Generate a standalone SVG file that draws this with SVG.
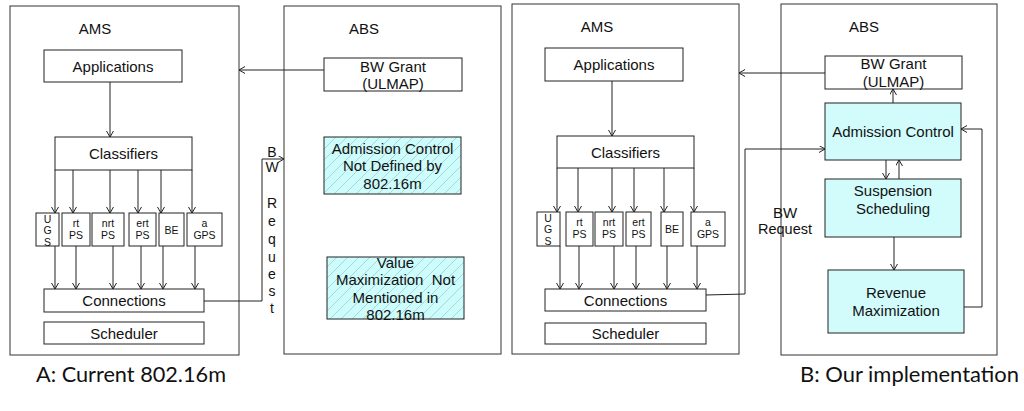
<svg xmlns="http://www.w3.org/2000/svg" width="1024" height="411" viewBox="0 0 1024 411">
<defs>
<style>
.panel{fill:#fff;stroke:#333;stroke-width:1}
.box{fill:#fff;stroke:#222;stroke-width:1}
.cyan{fill:#d2fcfc;stroke:#222;stroke-width:1}
.hatch{fill:url(#hatch);stroke:#222;stroke-width:1}
.t{font-family:"Liberation Sans",Arial,sans-serif;font-size:15px;fill:#111;text-anchor:middle;dominant-baseline:central}
.s{font-family:"Liberation Sans",Arial,sans-serif;font-size:10.5px;fill:#111;text-anchor:middle;dominant-baseline:central}
.v{font-family:"Liberation Sans",Arial,sans-serif;font-size:14px;fill:#111;text-anchor:middle;dominant-baseline:central}
.cap{font-family:Lato,"Open Sans",sans-serif;font-size:21px;fill:#111}
.c{fill:none;stroke:#222;stroke-width:1}
.ca{fill:none;stroke:#222;stroke-width:1;marker-end:url(#arr)}
</style>
<marker id="arr" markerUnits="userSpaceOnUse" markerWidth="8" markerHeight="8" refX="6" refY="3.5" orient="auto">
<path d="M0,0 L6,3.5 L0,7" fill="none" stroke="#222" stroke-width="1"/>
</marker>
<pattern id="hatch" patternUnits="userSpaceOnUse" width="11" height="11">
<rect width="11" height="11" fill="#cdfcfc"/>
<path d="M0,11 L11,0 M-2,2 L2,-2 M9,13 L13,9" stroke="#9fc4c4" stroke-width="0.7"/>
</pattern>
</defs>
<rect width="1024" height="411" fill="#fff"/>

<g id="panelA-AMS">
<rect class="panel" x="10" y="6" width="229" height="349"/>
<text class="t" x="95" y="28">AMS</text>
</g>
<g id="panelA-ABS">
<rect class="panel" x="284" y="6" width="217" height="348"/>
<text class="t" x="364" y="28">ABS</text>
</g>
<g id="panelB-AMS">
<rect class="panel" x="512" y="4" width="227" height="350"/>
<text class="t" x="597" y="26">AMS</text>
</g>
<g id="panelB-ABS">
<rect class="panel" x="781" y="4" width="216" height="351"/>
<text class="t" x="864" y="26">ABS</text>
</g>

<!-- Left AMS -->
<g id="a-applications"><rect class="box" x="44" y="50" width="138" height="32"/><text class="t" x="113" y="66">Applications</text></g>
<g id="a-classifiers"><rect class="box" x="55" y="137" width="137" height="33"/><text class="t" x="123.5" y="153">Classifiers</text></g>
<g id="a-ugs"><rect class="box" x="36" y="213" width="23" height="33"/><text class="s" x="47.5" y="219">U</text><text class="s" x="47.5" y="230">G</text><text class="s" x="47.5" y="242">S</text></g>
<g id="a-rtps"><rect class="box" x="62" y="213" width="28" height="33"/><text class="s" x="76" y="223">rt</text><text class="s" x="76" y="235">PS</text></g>
<g id="a-nrtps"><rect class="box" x="92" y="213" width="32" height="33"/><text class="s" x="108" y="223">nrt</text><text class="s" x="108" y="235">PS</text></g>
<g id="a-ertps"><rect class="box" x="129" y="213" width="27" height="33"/><text class="s" x="142.5" y="223">ert</text><text class="s" x="142.5" y="235">PS</text></g>
<g id="a-be"><rect class="box" x="159" y="213" width="25" height="33"/><text class="s" x="171.5" y="230">BE</text></g>
<g id="a-agps"><rect class="box" x="187" y="213" width="35" height="33"/><text class="s" x="204.5" y="223">a</text><text class="s" x="204.5" y="235">GPS</text></g>
<g id="a-connections"><rect class="box" x="44" y="289" width="160" height="23"/><text class="t" x="124" y="300">Connections</text></g>
<g id="a-scheduler"><rect class="box" x="44" y="322" width="160" height="22"/><text class="t" x="124" y="333">Scheduler</text></g>

<!-- Left ABS -->
<g id="a-bwgrant"><rect class="box" x="324" y="58" width="138" height="33"/><text class="t" x="393" y="66">BW Grant</text><text class="t" x="393" y="83">(ULMAP)</text></g>
<g id="a-admission"><rect class="hatch" x="324" y="137" width="137" height="57"/><text class="t" x="392.5" y="148">Admission Control</text><text class="t" x="392.5" y="165">Not Defined by</text><text class="t" x="392.5" y="183">802.16m</text></g>
<g id="a-value"><rect class="hatch" x="327" y="257" width="137" height="62"/><text class="t" x="395.5" y="262">Value</text><text class="t" x="395.5" y="279" xml:space="preserve">Maximization  Not</text><text class="t" x="395.5" y="297">Mentioned in</text><text class="t" x="395.5" y="314">802.16m</text></g>

<!-- Right AMS -->
<g id="b-applications"><rect class="box" x="545" y="48" width="138" height="33"/><text class="t" x="614" y="64">Applications</text></g>
<g id="b-classifiers"><rect class="box" x="557" y="136" width="137" height="32"/><text class="t" x="625.5" y="152">Classifiers</text></g>
<g id="b-ugs"><rect class="box" x="537" y="212" width="23" height="34"/><text class="s" x="548" y="218">U</text><text class="s" x="548" y="229">G</text><text class="s" x="548" y="241">S</text></g>
<g id="b-rtps"><rect class="box" x="566" y="212" width="27" height="34"/><text class="s" x="579.5" y="222">rt</text><text class="s" x="579.5" y="234">PS</text></g>
<g id="b-nrtps"><rect class="box" x="595" y="212" width="28" height="34"/><text class="s" x="609" y="222">nrt</text><text class="s" x="609" y="234">PS</text></g>
<g id="b-ertps"><rect class="box" x="626" y="212" width="25" height="34"/><text class="s" x="638.5" y="222">ert</text><text class="s" x="638.5" y="234">PS</text></g>
<g id="b-be"><rect class="box" x="661" y="212" width="22" height="34"/><text class="s" x="672" y="229">BE</text></g>
<g id="b-agps"><rect class="box" x="691" y="212" width="34" height="34"/><text class="s" x="708" y="222">a</text><text class="s" x="708" y="234">GPS</text></g>
<g id="b-connections"><rect class="box" x="545" y="289" width="161" height="22"/><text class="t" x="625.5" y="300">Connections</text></g>
<g id="b-scheduler"><rect class="box" x="545" y="323" width="161" height="21"/><text class="t" x="625.5" y="333.5">Scheduler</text></g>

<!-- Right ABS -->
<g id="b-bwgrant"><rect class="box" x="825" y="56" width="137" height="33"/><text class="t" x="893.5" y="63">BW Grant</text><text class="t" x="893.5" y="81">(ULMAP)</text></g>
<g id="b-admission"><rect class="cyan" x="825" y="103" width="136" height="57"/><text class="t" x="893" y="131">Admission Control</text></g>
<g id="b-suspension"><rect class="cyan" x="825" y="179" width="136" height="58"/><text class="t" x="893" y="190">Suspension</text><text class="t" x="893" y="208">Scheduling</text></g>
<g id="b-revenue"><rect class="cyan" x="828" y="270" width="136" height="63"/><text class="t" x="896" y="292">Revenue</text><text class="t" x="896" y="310">Maximization</text></g>

<g id="connectors">
<!-- Left -->
<path class="ca" d="M110,82 V137"/>
<path class="ca" d="M55,170 V213"/>
<path class="ca" d="M73,170 V213"/>
<path class="ca" d="M110,170 V213"/>
<path class="ca" d="M138,170 V213"/>
<path class="ca" d="M161,170 V213"/>
<path class="ca" d="M192,170 V213"/>
<path class="ca" d="M55,246 V289"/>
<path class="ca" d="M76,246 V289"/>
<path class="ca" d="M113,246 V289"/>
<path class="ca" d="M141,246 V289"/>
<path class="ca" d="M163,246 V289"/>
<path class="ca" d="M195,246 V289"/>
<path class="ca" d="M324,70 H239"/>
<path class="ca" d="M204,301 H262 V159 H284"/>
<!-- Right -->
<path class="ca" d="M612,81 V136"/>
<path class="ca" d="M557,168 V212"/>
<path class="ca" d="M578,168 V212"/>
<path class="ca" d="M612,168 V212"/>
<path class="ca" d="M634,168 V212"/>
<path class="ca" d="M664,168 V212"/>
<path class="ca" d="M694,168 V212"/>
<path class="ca" d="M560,246 V289"/>
<path class="ca" d="M579,246 V289"/>
<path class="ca" d="M614,246 V289"/>
<path class="ca" d="M636,246 V289"/>
<path class="ca" d="M667,246 V289"/>
<path class="ca" d="M697,246 V289"/>
<path class="ca" d="M825,73 H739"/>
<path class="ca" d="M706,295 L745,294 V149 H825"/>
<path class="ca" d="M893,103 V89"/>
<path class="ca" d="M886,160 V179"/>
<path class="ca" d="M899,179 V160"/>
<path class="ca" d="M894,237 V270"/>
<path class="ca" d="M964,307 H982 V129 H961"/>
</g>

<g id="labels">
<text class="v" x="272" y="152">B</text>
<text class="v" x="272" y="167">W</text>
<text class="v" x="272" y="203">R</text>
<text class="v" x="272" y="221">e</text>
<text class="v" x="272" y="239">q</text>
<text class="v" x="272" y="257">u</text>
<text class="v" x="272" y="274">e</text>
<text class="v" x="272" y="291">s</text>
<text class="v" x="272" y="308">t</text>
<text class="t" x="785" y="212">BW</text>
<text class="t" x="785" y="229" style="font-size:14.5px">Request</text>
<text class="cap" x="36" y="382" textLength="190" lengthAdjust="spacingAndGlyphs">A: Current 802.16m</text>
<text class="cap" x="800" y="382" textLength="219" lengthAdjust="spacingAndGlyphs">B: Our implementation</text>
</g>
</svg>
